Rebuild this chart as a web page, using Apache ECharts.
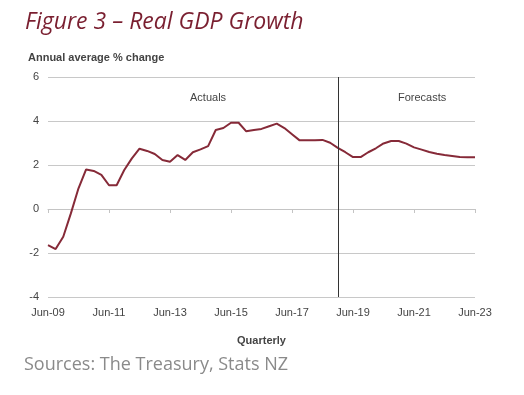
<!DOCTYPE html>
<html>
<head>
<meta charset="utf-8">
<script src="https://cdn.jsdelivr.net/npm/echarts@6/dist/echarts.min.js"></script>
<style>
html,body{margin:0;padding:0;background:#fff;}
#chart{width:524px;height:395px;}
</style>
</head>
<body>
<div id="chart"></div>
<script>
var categories = [
  'Jun-09','Sep-09','Dec-09','Mar-10','Jun-10','Sep-10','Dec-10','Mar-11',
  'Jun-11','Sep-11','Dec-11','Mar-12','Jun-12','Sep-12','Dec-12','Mar-13',
  'Jun-13','Sep-13','Dec-13','Mar-14','Jun-14','Sep-14','Dec-14','Mar-15',
  'Jun-15','Sep-15','Dec-15','Mar-16','Jun-16','Sep-16','Dec-16','Mar-17',
  'Jun-17','Sep-17','Dec-17','Mar-18','Jun-18','Sep-18','Dec-18','Mar-19',
  'Jun-19','Sep-19','Dec-19','Mar-20','Jun-20','Sep-20','Dec-20','Mar-21',
  'Jun-21','Sep-21','Dec-21','Mar-22','Jun-22','Sep-22','Dec-22','Mar-23',
  'Jun-23'
];
var gdpGrowth = [
  -1.64, -1.82, -1.26, -0.2, 0.94, 1.8, 1.73, 1.55,
  1.08, 1.08, 1.77, 2.3, 2.74, 2.64, 2.5, 2.23,
  2.15, 2.45, 2.23, 2.58, 2.71, 2.86, 3.59, 3.68,
  3.92, 3.92, 3.53, 3.59, 3.64, 3.76, 3.88, 3.68,
  3.4, 3.12, 3.12, 3.12, 3.14, 3.01, 2.78, 2.58,
  2.36, 2.36, 2.58, 2.76, 2.98, 3.09, 3.09, 2.97,
  2.8, 2.7, 2.59, 2.51, 2.45, 2.41, 2.36, 2.35,
  2.35
];
var forecastStart = 'Dec-18';
var yTicks = { min: -4, max: 6, interval: 2 };
var titleText = 'Figure 3 \u2013 Real GDP Growth';
var yAxisTitle = 'Annual average % change';
var xAxisTitle = 'Quarterly';
var sourceText = 'Sources: The Treasury, Stats NZ';
var regionLabels = ['Actuals', 'Forecasts'];

var chart = echarts.init(document.getElementById('chart'), null, {renderer: 'canvas'});
var labelFont = {fontFamily: 'Liberation Sans, Arial, sans-serif', fontSize: 11, color: '#444'};

chart.setOption({
  animation: false,
  backgroundColor: '#fff',
  title: {
    text: titleText,
    left: 20,
    top: 6,
    textStyle: {fontFamily: 'Open Sans', fontStyle: 'italic', fontWeight: 'normal', fontSize: 23, color: '#7a1f30'}
  },
  grid: {left: 48, right: 49, top: 77, bottom: 98},
  xAxis: [{
    type: 'category',
    data: categories,
    boundaryGap: false,
    axisLine: {show: false, onZero: false},
    axisTick: {show: false},
    axisLabel: Object.assign({interval: 7, margin: 10}, labelFont),
    splitLine: {show: false},
    name: xAxisTitle,
    nameLocation: 'middle',
    nameGap: 38,
    nameTextStyle: {fontFamily: 'Liberation Sans, Arial, sans-serif', fontSize: 11, fontWeight: 'bold', color: '#444'}
  }, {
    type: 'category',
    data: categories,
    boundaryGap: false,
    position: 'bottom',
    axisLine: {show: true, onZero: true, lineStyle: {color: '#c4c4c4', width: 1}},
    axisTick: {show: true, interval: 7, length: 4, inside: false, lineStyle: {color: '#c4c4c4'}},
    axisLabel: {show: false},
    splitLine: {show: false}
  }],
  yAxis: {
    type: 'value',
    min: yTicks.min,
    max: yTicks.max,
    interval: yTicks.interval,
    axisLine: {show: false},
    axisTick: {show: false},
    axisLabel: Object.assign({margin: 9}, labelFont),
    splitLine: {lineStyle: {color: '#c8c8c8', width: 1}}
  },
  series: [{
    type: 'line',
    data: gdpGrowth,
    showSymbol: false,
    lineStyle: {color: '#862a38', width: 2},
    markLine: {
      silent: true,
      symbol: 'none',
      label: {show: false},
      lineStyle: {color: '#333', width: 1, type: 'solid'},
      data: [{xAxis: forecastStart}]
    }
  }],
  graphic: [
    {type: 'text', left: 28, top: 52, style: {text: yAxisTitle, font: 'bold 11px "Liberation Sans", Arial, sans-serif', fill: '#444'}},
    {type: 'text', left: 190, top: 92, style: {text: regionLabels[0], font: '11px "Liberation Sans", Arial, sans-serif', fill: '#444'}},
    {type: 'text', left: 398, top: 92, style: {text: regionLabels[1], font: '11px "Liberation Sans", Arial, sans-serif', fill: '#444'}},
    {type: 'text', left: 24, top: 356, style: {text: sourceText, font: '18px "Open Sans", sans-serif', fill: '#8a8a8a'}}
  ]
});
</script>
</body>
</html>
